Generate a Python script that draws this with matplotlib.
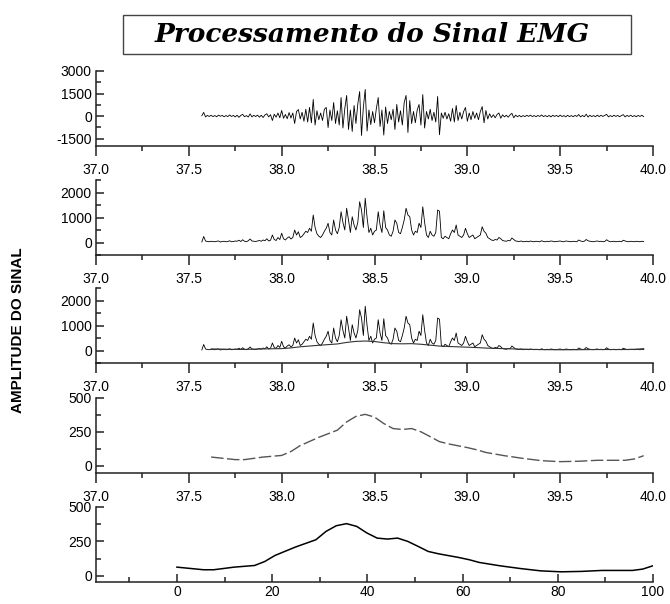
import numpy as np
import matplotlib
matplotlib.use("Agg")
import matplotlib.pyplot as plt
from matplotlib.ticker import MultipleLocator, FormatStrFormatter
from matplotlib.patches import Rectangle

plt.rcParams['font.family'] = ['Liberation Sans', 'DejaVu Sans']
plt.rcParams['axes.unicode_minus'] = False

# raw EMG, sampled every 0.01 s from 37.57 s
t_start = 37.57
dt = 0.01
raw = [
    20, 240, -60, 40, -30, 50, -40, 30, -50, 60,
    -20, 40, -50, 30, -40, 70, -30, 40, -60, 50,
    -90, 40, 110, -50, 30, -70, 140, -60, 50, -40,
    60, -80, 50, -100, 70, 150, -60, 90, -300, 120,
    -80, 200, -120, 370, -150, 100, -180, 230, -140, 200,
    -500, 300, 430, -200, 250, -350, 450, -400, 570, -450,
    1100, -600, 350, -250, 200, -300, 450, 570, -770, 400,
    -300, 900, -500, 350, -600, 1230, -800, 500, 1370, -900,
    400, -1030, 700, -500, 800, 1630, -1300, 600, 1770, -1000,
    400, -570, 300, -450, 500, 1230, -700, 400, -1270, 600,
    -500, 300, -250, 450, -900, 770, -400, 350, -600, 900,
    1370, -1100, 1030, -500, 300, -450, 400, 770, -600, 1430,
    -800, 300, -200, 450, -300, 250, -400, 1300, -1250, 200,
    -150, 250, -200, 150, -350, 500, -400, 700, -300, 250,
    -200, 300, 570, -350, 200, -250, 300, -150, 200, -250,
    300, 630, -450, 370, -200, 150, -100, 80, -120, 100,
    200, -150, 80, -60, 50, -80, 70, 180, -120, 60,
    -50, 40, -60, 30, -40, 50, -30, 60, -40, 30,
    -50, 40, -30, 70, -40, 30, -50, 40, -60, 50,
    -30, 40, -50, 60, -40, 30, -60, 50, -40, 30,
    -50, 40, -30, 100, -60, 40, -50, 120, -70, 50,
    -40, 30, -50, 60, -40, 50, -30, 40, 110, -60,
    30, -40, 50, -30, 40, -50, 30, 90, -60, 40,
    -30, 50, -40, 30, -50, 40, -30, 50, -40,
]

# linear envelope
env_t = [37.62, 37.75, 37.80, 37.90, 38.00, 38.05, 38.10, 38.20, 38.30, 38.35,
         38.40, 38.45, 38.50, 38.55, 38.60, 38.65, 38.70, 38.75, 38.80, 38.85,
         38.90, 39.00, 39.05, 39.10, 39.20, 39.30, 39.40, 39.50, 39.60, 39.70,
         39.80, 39.85, 39.90, 39.95]
env = [63, 44, 44, 63, 75, 104, 148, 209, 262, 323,
       364, 379, 359, 311, 274, 267, 274, 250, 214, 177,
       160, 133, 117, 97, 73, 53, 36, 29, 32, 39,
       39, 39, 49, 73]

raw = np.array(raw, dtype=float)
t = t_start + dt * np.arange(len(raw))
rect = np.abs(raw)
env_t = np.array(env_t)
env = np.array(env)
pct = (env_t - env_t[0]) / (env_t[-1] - env_t[0]) * 100

W, H = 670, 604
fig = plt.figure(figsize=(W / 100, H / 100), dpi=100)

left, right = 96, 653
tops = [71, 180, 288, 398, 507]
ph = 75

axes = []
for top in tops:
    ax = fig.add_axes([left / W, 1 - (top + ph) / H, (right - left) / W, ph / H])
    ax.spines['top'].set_visible(False)
    ax.spines['right'].set_visible(False)
    for s in ['left', 'bottom']:
        ax.spines[s].set_linewidth(1.1)
        ax.spines[s].set_color('#222222')
    ax.tick_params(axis='y', which='major', direction='in', length=5.8, width=1.1,
                   labelsize=10, pad=3, color='#222222')
    ax.tick_params(axis='y', which='minor', direction='in', length=3.6, width=1.1,
                   color='#222222')
    ax.tick_params(axis='x', which='major', direction='out', length=7, width=1.1,
                   labelsize=10, pad=5, color='#222222')
    ax.tick_params(axis='x', which='minor', direction='out', length=3.6, width=1.1,
                   color='#222222')
    axes.append(ax)

ax1, ax2, ax3, ax4, ax5 = axes

ax1.plot(t, raw, color='black', lw=0.6)
ax1.set_ylim(-2000, 3000)
ax1.yaxis.set_major_locator(MultipleLocator(1500))
ax1.yaxis.set_minor_locator(MultipleLocator(750))

ax2.plot(t, rect, color='black', lw=0.6)
ax3.plot(t, rect, color='black', lw=0.6)
ax3.plot(env_t, env, color='#333333', lw=0.8)
for ax in (ax2, ax3):
    ax.set_ylim(-500, 2500)
    ax.yaxis.set_major_locator(MultipleLocator(1000))
    ax.yaxis.set_minor_locator(MultipleLocator(500))

ax4.plot(env_t, env, color='#555555', lw=1.0, linestyle=(0, (9, 2.5)))
ax4.set_ylim(-55, 500)

for ax in (ax1, ax2, ax3, ax4):
    ax.set_xlim(37.0, 40.0)
    ax.xaxis.set_major_locator(MultipleLocator(0.5))
    ax.xaxis.set_minor_locator(MultipleLocator(0.25))
    ax.xaxis.set_major_formatter(FormatStrFormatter('%.1f'))

ax5.plot(pct, env, color='black', lw=1.1)
ax5.set_ylim(-45, 500)
ax5.set_xlim(-17, 100)
ax5.set_xticks([0, 20, 40, 60, 80, 100])
ax5.xaxis.set_minor_locator(MultipleLocator(10))
ax5.tick_params(axis='x', which='major', direction='in', length=5.8, pad=2)
ax5.tick_params(axis='x', which='minor', direction='in', length=3.6)

for ax in (ax4, ax5):
    ax.yaxis.set_major_locator(MultipleLocator(250))
    ax.yaxis.set_minor_locator(MultipleLocator(125))

# title box
fig.patches.append(Rectangle((123 / W, 1 - 54 / H), (631 - 123) / W, 39 / H,
                             transform=fig.transFigure, fill=False,
                             edgecolor='#444444', lw=1.0))
fig.text(372 / W, 1 - 35 / H, 'Processamento do Sinal EMG', ha='center', va='center',
         family='DejaVu Serif', fontweight='bold', fontstyle='italic', fontsize=19)

fig.text(18 / W, 1 - 330 / H, 'AMPLITUDE DO SINAL', rotation=90, ha='center',
         va='center', fontweight='bold', fontsize=11)

fig.savefig('out.png', dpi=100)
